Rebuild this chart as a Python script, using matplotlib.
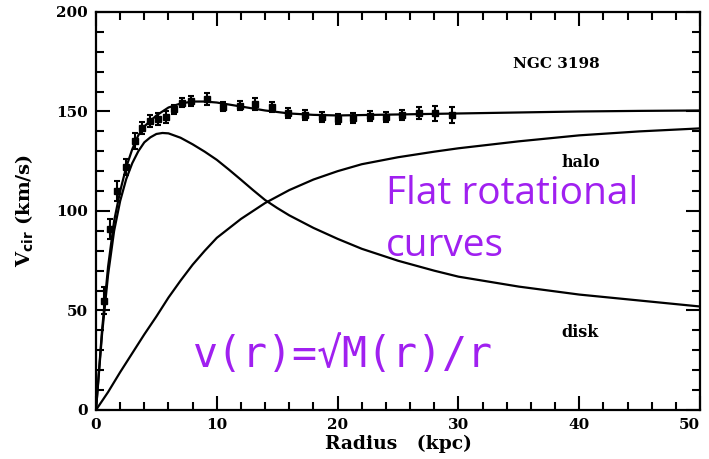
import numpy as np
import matplotlib.pyplot as plt

# observed rotation curve of NGC 3198
r_obs = [0.66, 1.2, 1.77, 2.5, 3.2, 3.84, 4.5, 5.1, 5.8, 6.46, 7.15, 7.85, 9.2,
         10.5, 11.9, 13.2, 14.6, 15.9, 17.3, 18.7, 20.0, 21.3, 22.7, 24.0, 25.3,
         26.7, 28.1, 29.5]
v_obs = [55, 91, 110, 122, 135, 141.5, 145, 146, 147, 151, 154.5, 155.5, 156.5,
         152.5, 153, 153.8, 152.4, 149.2, 148.4, 147.2, 146, 146.8, 147.5, 147.2,
         148, 149, 149, 148]
v_err = [7, 5, 5, 4, 4, 3, 3, 3, 3, 2.5, 2.5, 2.5, 3, 2.5, 2.5, 3, 2.5, 2.5,
         2.5, 2.5, 2.5, 2.5, 2.5, 2.5, 2.5, 3, 4, 4]

# model curves
r_disk = [0, 0.5, 1, 1.5, 2, 2.5, 3, 3.5, 4, 4.5, 5, 5.5, 6, 7, 8, 9, 10, 11, 12,
          13, 14, 15, 16, 18, 20, 22, 25, 28, 30, 35, 40, 45, 50]
v_disk = [0, 38, 68, 90, 105, 116, 124, 130, 134.5, 137, 138.7, 139.2, 139, 136.8,
          133.5, 129.8, 125.7, 120.8, 115.7, 110.5, 105.5, 101.5, 97.8, 91.5, 86,
          81, 75, 70, 67, 62, 58, 55, 52]

r_halo = [0, 1, 2, 3, 4, 5, 6, 7, 8, 9, 10, 12, 14, 16, 18, 20, 22, 25, 28, 30,
          35, 40, 45, 50]
v_halo = [0, 9, 19, 28.5, 38, 47, 56.5, 65, 73, 80, 86.5, 96, 104, 110.5, 115.8,
          120, 123.5, 127, 129.8, 131.5, 135, 138, 140, 141.5]

r_tot = [0, 0.5, 1, 1.5, 2, 2.5, 3, 3.5, 4, 5, 6, 7, 8, 9, 10, 12, 14, 16, 18,
         20, 25, 30, 35, 40, 45, 50]
v_tot = [0, 40, 72, 95, 110, 122, 131, 138, 142.5, 148, 152, 154, 155, 155, 154.5,
         152.5, 150.5, 149, 148.3, 148, 148.5, 149, 149.5, 150, 150.3, 150.5]

fig = plt.figure(figsize=(7.09, 4.59), dpi=100)
ax = fig.add_axes([0.1354, 0.1068, 0.8519, 0.8671])

ax.plot(r_tot, v_tot, color='black', lw=1.6)
ax.plot(r_disk, v_disk, color='black', lw=1.6)
ax.plot(r_halo, v_halo, color='black', lw=1.6)
ax.errorbar(r_obs, v_obs, yerr=v_err, fmt='s', color='black', ms=5,
            capsize=2.5, elinewidth=1.5, capthick=1.5)

ax.set_xlim(0, 50)
ax.set_ylim(0, 200)
ax.set_xticks(np.arange(0, 51, 10))
ax.set_yticks(np.arange(0, 201, 50))
ax.set_xticks(np.arange(0, 51, 2), minor=True)
ax.set_yticks(np.arange(0, 201, 10), minor=True)
ax.tick_params(which='both', direction='in', top=True, right=True, width=1.5)
ax.tick_params(which='major', length=10, labelsize=11, pad=6)
ax.tick_params(which='minor', length=6)
for s in ax.spines.values():
    s.set_linewidth(1.6)
for lab in ax.get_xticklabels() + ax.get_yticklabels():
    lab.set_family('DejaVu Serif')
    lab.set_fontweight('bold')
ax.get_xticklabels()[-1].set_ha('right')

ax.set_xlabel('Radius   (kpc)', family='DejaVu Serif', fontweight='bold',
              fontsize=13.5, labelpad=2)
ax.set_ylabel(r'V$_{\mathbf{cir}}$ (km/s)', family='DejaVu Serif',
              fontweight='bold', fontsize=14, labelpad=14)

ax.text(38.1, 174, 'NGC 3198', family='DejaVu Serif', fontweight='bold',
        fontsize=11, ha='center', va='center')
ax.text(40.1, 124.5, 'halo', family='DejaVu Serif', fontweight='bold',
        fontsize=11.5, ha='center', va='center')
ax.text(40.1, 38.8, 'disk', family='DejaVu Serif', fontweight='bold',
        fontsize=11.5, ha='center', va='center')

purple = '#a020f0'
ax.text(24.0, 108.5, 'Flat rotational', color=purple, fontsize=28,
        family='Open Sans', ha='left', va='center')
ax.text(24.0, 82.5, 'curves', color=purple, fontsize=28,
        family='Open Sans', ha='left', va='center')
ax.text(8.0, 27.6, 'v(r)=\u221aM(r)/r', color=purple, fontsize=30,
        family='DejaVu Sans Mono', ha='left', va='center')

fig.savefig('out.png', dpi=100)
